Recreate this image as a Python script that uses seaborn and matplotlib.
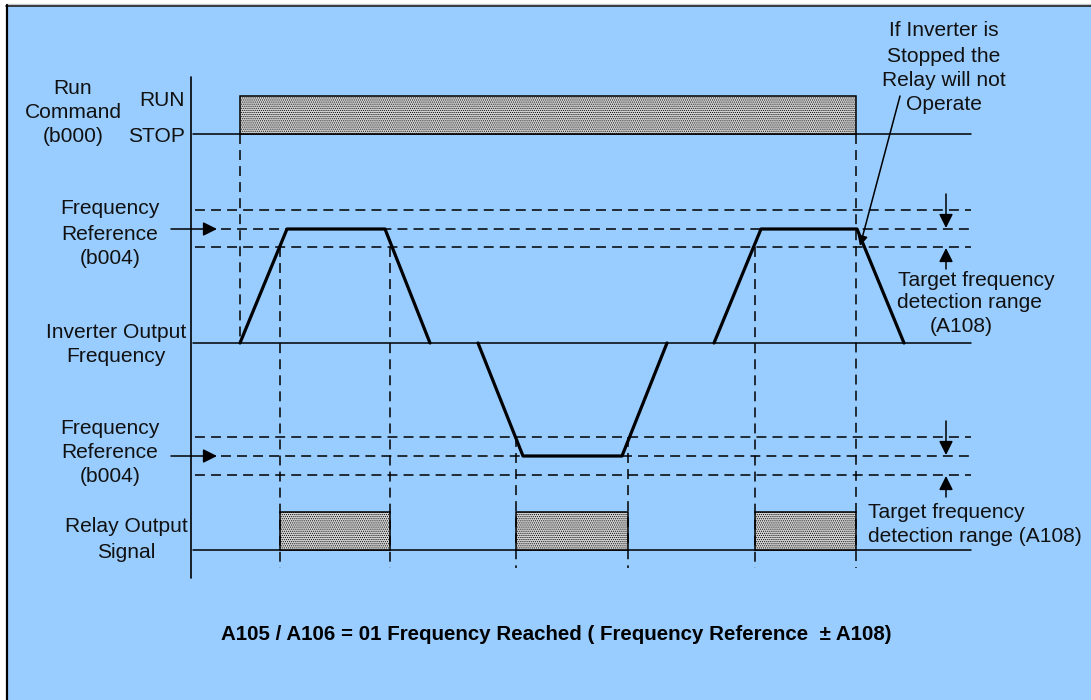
import matplotlib
matplotlib.use("Agg")
import matplotlib.pyplot as plt
import seaborn as sns
import numpy as np
import pandas as pd
from matplotlib.patches import Rectangle

# time marks (x) and signal levels (y), in diagram units
run_on = [240, 856]
stop_level, run_level = 134, 96

freq_pulses = {
    "fwd1": ([240, 287, 385, 430], [343, 229, 229, 343]),
    "rev":  ([478, 523, 622, 667], [343, 456, 456, 343]),
    "fwd2": ([714, 761, 857, 904], [343, 229, 229, 343]),
}
zero_freq = 343
upper_band = [210, 229, 247]
lower_band = [437, 456, 475]

relay_on = [(280, 390), (516, 628), (755, 856)]
relay_off_level, relay_on_level = 550, 512

# (x, y from, y to) for the dashed time markers
markers = [(240, 134, 343), (280, 247, 568), (390, 247, 568), (516, 437, 568),
           (628, 437, 568), (755, 247, 568), (856, 134, 568)]

x_start, x_end = 191, 971

sns.set_theme(style="white")
plt.rcParams["font.family"] = ["Liberation Sans", "DejaVu Sans"]
plt.rcParams["hatch.color"] = "#909090"
plt.rcParams["hatch.linewidth"] = 0.5

fig = plt.figure(figsize=(10.91, 7.0), dpi=100)
fig.patch.set_facecolor("white")
ax = fig.add_axes([0, 0, 1, 1])
ax.set_xlim(0, 1091)
ax.set_ylim(700, 0)
ax.axis("off")

# panel background with top/left frame only
ax.add_patch(Rectangle((6, 5), 1100, 710, facecolor="#99ccff", edgecolor="none", zorder=0))
ax.plot([6, 1091], [4, 4], color="#c8c8c8", lw=1.0)
ax.plot([6, 1091], [5.5, 5.5], color="#222222", lw=1.2)
ax.plot([6.5, 6.5], [5, 700], color="black", lw=1.6)

k = "black"
dash = dict(color=k, lw=1.1, dashes=(6.5, 4))

# axis line and baselines
ax.plot([x_start, x_start], [77, 578], color=k, lw=1.2)
for y in [stop_level, zero_freq, relay_off_level]:
    ax.plot([x_start + 2, x_end], [y, y], color=k, lw=1.1)

# run command pulse
ax.add_patch(Rectangle((run_on[0], run_level), run_on[1] - run_on[0], stop_level - run_level,
                       facecolor="#d2d2d2", edgecolor=k, hatch="........", lw=1.1, zorder=2))

# relay pulses
for a, b in relay_on:
    ax.add_patch(Rectangle((a, relay_on_level), b - a, relay_off_level - relay_on_level,
                           facecolor="#d2d2d2", edgecolor=k, hatch="........", lw=1.1, zorder=2))

# frequency band lines
for band in [upper_band, lower_band]:
    ax.plot([195, x_end], [band[0], band[0]], **dash)
    ax.plot([221, x_end], [band[1], band[1]], **dash)
    ax.plot([195, x_end], [band[2], band[2]], **dash)

# dashed time markers
for x, y0, y1 in markers:
    ax.plot([x, x], [y0, y1], **dash)

# output frequency
rows = []
for name, (ts, ys) in freq_pulses.items():
    for t, y in zip(ts, ys):
        rows.append({"pulse": name, "t": t, "f": y})
df = pd.DataFrame(rows)
sns.lineplot(data=df, x="t", y="f", units="pulse", estimator=None, sort=False,
             color=k, lw=2.3, ax=ax, zorder=3)
ax.set_xlim(0, 1091)
ax.set_ylim(700, 0)
ax.axis("off")

arrow = dict(arrowstyle="-|>", color=k, lw=1.1, mutation_scale=21, shrinkA=0, shrinkB=0)
# frequency reference pointers
for band in [upper_band, lower_band]:
    ax.annotate("", xy=(217, band[1]), xytext=(171, band[1]), arrowprops=arrow)
    ax.annotate("", xy=(946, band[1] - 1), xytext=(946, band[1] - 35), arrowprops=arrow)
    ax.annotate("", xy=(946, band[2] + 1), xytext=(946, band[2] + 22), arrowprops=arrow)

# callout
ax.annotate("", xy=(860, 246), xytext=(900, 96),
            arrowprops=dict(arrowstyle="-|>", color=k, lw=1.1, mutation_scale=15, shrinkA=0, shrinkB=0))

fs = 15.1


def label(x, ys, lines, ha="center"):
    for y, s in zip(ys, lines):
        ax.text(x, y - 2, s, ha=ha, va="center_baseline", fontsize=fs, color="#111111")


label(73, [89, 113, 137], ["Run", "Command", "(b000)"])
label(185, [100], ["RUN"], ha="right")
label(185, [136], ["STOP"], ha="right")
label(110, [209, 234, 258], ["Frequency", "Reference", "(b004)"])
label(116, [332, 356], ["Inverter Output", "Frequency"])
label(110, [428, 452, 476], ["Frequency", "Reference", "(b004)"])
label(126, [527, 552], ["Relay Output", "Signal"])
label(976, [280], ["Target frequency"])
label(969, [303], ["detection range"])
label(961, [327], ["(A108)"])
label(868, [512, 536], ["Target frequency", "detection range (A108)"], ha="left")
label(944, [31, 57, 81, 105], ["If Inverter is", "Stopped the", "Relay will not", "Operate"])

ax.text(556, 632, "A105 / A106 = 01 Frequency Reached ( Frequency Reference  \u00b1 A108)",
        ha="center", va="center_baseline", fontsize=14.8, fontweight="bold", color="black",
        family=["Liberation Sans Narrow", "Liberation Sans", "DejaVu Sans"])

fig.savefig("out.png", dpi=100, facecolor="white")
